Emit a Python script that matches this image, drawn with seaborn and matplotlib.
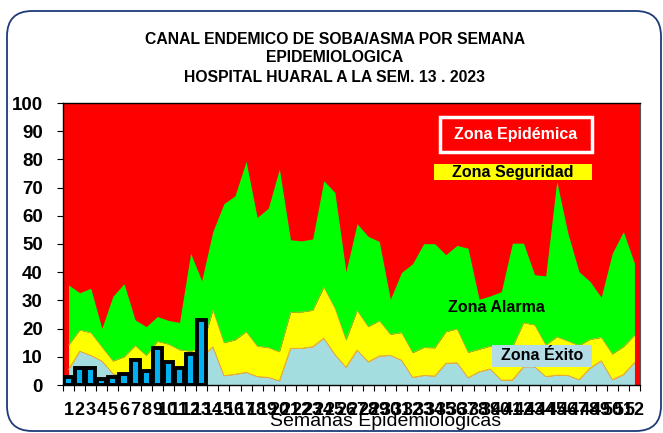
import matplotlib
matplotlib.use("Agg")
import matplotlib.pyplot as plt
import matplotlib.patches as mpatches
import seaborn as sns
import pandas as pd

plt.rcParams['font.family'] = ['Liberation Sans', 'DejaVu Sans']

# Semanas epidemiologicas
semanas = list(range(1, 53))

# Limites acumulados del canal endemico
exito = [5.5, 12, 10.5, 8.5, 4, 3, 5, 3.5, 6, 5, 6, 6, 10, 13.5, 3.3, 3.8, 4.5, 3, 2.7, 1.5,
         13, 13, 13.6, 16.6, 10.8, 6.3, 12.4, 8.2, 10.3, 10.5, 8.8, 2.7, 3.4, 3.2, 7.7, 7.9,
         2.6, 4.7, 5.7, 1.7, 1.8, 6.5, 6.5, 3, 3.5, 3.4, 1.9, 6, 8.6, 1.9, 3.7, 8]
seguridad = [14.2, 19.5, 18.6, 13.5, 8.5, 10, 14, 10.5, 15.5, 14.5, 12.5, 12, 13, 26.6, 15, 16,
             18.9, 13.8, 13.3, 11.8, 25.8, 25.9, 26.5, 34.7, 27.2, 16, 26.4, 20.7, 22.8, 18,
             18.6, 11.5, 13.3, 13.2, 18.9, 19.9, 11.6, 12.7, 13.8, 12, 13.5, 22.1, 21.3, 14.2,
             17.1, 15.6, 14, 16.2, 16.9, 11, 13.6, 17.7]
alarma = [35.5, 32.7, 34.3, 20.1, 31.5, 35.9, 23.1, 20.7, 24.3, 22.9, 22.2, 46.7, 37, 54.4,
          64.3, 67.1, 79.3, 59.4, 62.7, 76.6, 51.5, 51.1, 51.8, 72.4, 68.3, 40.2, 57.2, 52.7,
          50.9, 30.4, 39.9, 43, 50.1, 50.1, 46.2, 49.5, 48.5, 30.4, 31.6, 33.1, 50.3, 50.3,
          39.1, 38.7, 72.2, 53.8, 40.2, 36.7, 31.1, 46.7, 54.4, 43.2]

# Casos 2023 hasta la semana 13
semanas_2023 = list(range(1, 14))
casos = [3, 6, 6, 2, 3, 4, 9, 5, 13, 8, 6, 11, 23]

canal = pd.DataFrame({'semana': semanas, 'exito': exito, 'seguridad': seguridad, 'alarma': alarma})
df_casos = pd.DataFrame({'semana': semanas_2023, 'casos': casos})

W, H = 663, 433
fig = plt.figure(figsize=(W / 100, H / 100), dpi=100)
ax = fig.add_axes([63 / W, 1 - 385 / H, 577 / W, 282 / H])
ax.set_facecolor('#FF0000')

# Zonas del canal endemico
ax.fill_between(canal['semana'], 0, canal['exito'], color='#A4DDE0', lw=0, zorder=1)
ax.fill_between(canal['semana'], canal['exito'], canal['seguridad'], color='#FFFF00', lw=0, zorder=1)
ax.fill_between(canal['semana'], canal['seguridad'], canal['alarma'], color='#00FF00', lw=0, zorder=1)
sns.lineplot(data=canal, x='semana', y='exito', color='#E0A040', lw=0.6, ax=ax, zorder=2)
sns.lineplot(data=canal, x='semana', y='seguridad', color='#E0B040', lw=0.4, ax=ax, zorder=2)

# Casos
sns.barplot(data=df_casos, x='semana', y='casos', native_scale=True, width=0.82,
            color='#00B0F0', saturation=1, edgecolor='black', linewidth=2.8, ax=ax, zorder=3)

ax.set_xlim(0.5, 52.5)
ax.set_ylim(0, 100)
ax.set_yticks(range(0, 101, 10))
ax.set_yticklabels([str(v) for v in range(0, 101, 10)], fontsize=13.5, fontweight='bold')
ax.set_xticks(semanas)
ax.set_xticklabels([str(s) for s in semanas], fontsize=13, fontweight='bold')
ax.set_xticks([s + 0.5 for s in [0] + semanas], minor=True)
ax.tick_params(axis='y', length=4.5, width=0.8, pad=10)
ax.tick_params(axis='x', which='major', length=0, pad=12)
ax.tick_params(axis='x', which='minor', length=4, width=0.8)
ax.set_xlabel('')
ax.set_ylabel('')
for side in ['left', 'top', 'bottom']:
    ax.spines[side].set_color('black')
    ax.spines[side].set_linewidth(1)
ax.spines['right'].set_color('#555555')
ax.spines['right'].set_linewidth(0.8)

# Etiquetas de zonas
ax.add_patch(mpatches.Rectangle(((440 - 63) / 577, (385 - 152) / 282), 152 / 577, 35 / 282,
                                transform=ax.transAxes, facecolor='#FF0000', edgecolor='white',
                                lw=2.5, zorder=5))
ax.text((516 - 63) / 577, (385 - 134.5) / 282, 'Zona Epidémica', transform=ax.transAxes,
        ha='center', va='center', color='white', fontsize=11.5, fontweight='bold', zorder=6)
ax.add_patch(mpatches.Rectangle(((434 - 63) / 577, (385 - 180) / 282), 158 / 577, 16 / 282,
                                transform=ax.transAxes, facecolor='#FFFF00', lw=0, zorder=5))
ax.text((513 - 63) / 577, (385 - 172) / 282, 'Zona Seguridad', transform=ax.transAxes,
        ha='center', va='center', color='black', fontsize=11.5, fontweight='bold', zorder=6)
ax.text((496 - 63) / 577, (385 - 308) / 282, 'Zona Alarma', transform=ax.transAxes,
        ha='center', va='center', color='black', fontsize=11.5, fontweight='bold', zorder=6)
ax.add_patch(mpatches.Rectangle(((492 - 63) / 577, (385 - 367) / 282), 100 / 577, 22 / 282,
                                transform=ax.transAxes, facecolor='#B4DCE6', lw=0, zorder=5))
ax.text((542 - 63) / 577, (385 - 356) / 282, 'Zona Éxito', transform=ax.transAxes,
        ha='center', va='center', color='black', fontsize=11.5, fontweight='bold', zorder=6)

# Titulo y eje
titulo = ['CANAL ENDEMICO DE SOBA/ASMA POR SEMANA', 'EPIDEMIOLOGICA',
          'HOSPITAL HUARAL A LA SEM. 13 . 2023']
for linea, ypix in zip(titulo, [39, 58, 77]):
    fig.text(335 / W, 1 - ypix / H, linea, ha='center', va='center',
             fontsize=11.3, fontweight='bold')
fig.text(386 / W, 1 - 422 / H, 'Semanas Epidemiologicas', ha='center', va='center', fontsize=14)

# Marco redondeado
marco = mpatches.FancyBboxPatch((7 / W, 1 - 431 / H), 654 / W, 420 / H,
                                boxstyle='round,pad=0,rounding_size=0.038',
                                mutation_aspect=W / H, transform=fig.transFigure,
                                facecolor='none', edgecolor='#1F3A7A', lw=1.3)
fig.patches.append(marco)

fig.savefig('out.png', dpi=100)
